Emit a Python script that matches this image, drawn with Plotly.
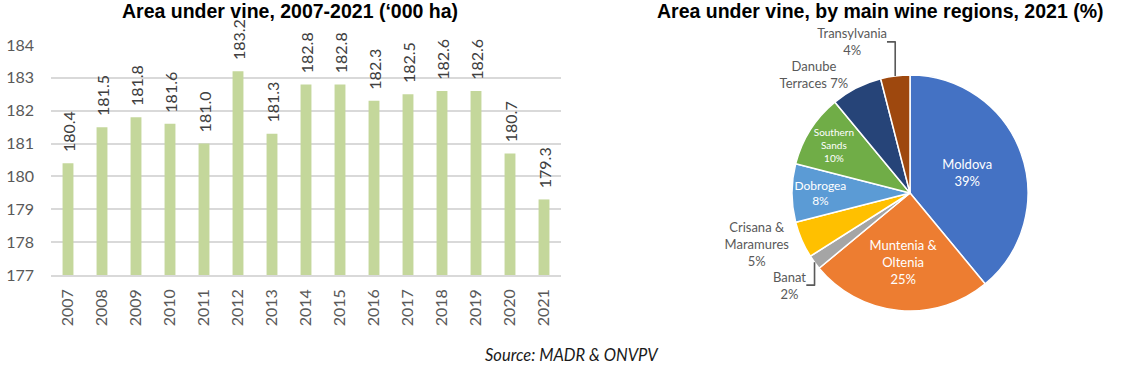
import plotly.graph_objects as go

# ---- data ----
years = ["2007", "2008", "2009", "2010", "2011", "2012", "2013", "2014",
         "2015", "2016", "2017", "2018", "2019", "2020", "2021"]
area = [180.4, 181.5, 181.8, 181.6, 181.0, 183.2, 181.3, 182.8,
        182.8, 182.3, 182.5, 182.6, 182.6, 180.7, 179.3]
y_ticks = [177, 178, 179, 180, 181, 182, 183, 184]

regions = ["Moldova", "Muntenia & Oltenia", "Banat", "Crisana & Maramures",
           "Dobrogea", "Southern Sands", "Danube Terraces", "Transylvania"]
region_label = ["Moldova", "Muntenia &<br>Oltenia", "Banat", "Crisana &<br>Maramures",
                "Dobrogea", "Southern<br>Sands", "Danube<br>Terraces", "Transylvania"]
label_sep = ["<br>", "<br>", "<br>", "<br>", "<br>", "<br>", " ", "<br>"]
shares = [39, 25, 2, 5, 8, 10, 7, 4]

# ---- styles ----
AX_MIN, AX_MAX = 177, 184
region_colors = ["#4472C4", "#ED7D31", "#A5A5A5", "#FFC000",
                 "#5B9BD5", "#70AD47", "#264478", "#9E480E"]
text_pos = ["inside", "inside", "outside", "outside", "inside", "inside", "outside", "outside"]
W, H = 1145, 370
BODY = "Lato, Carlito, Calibri, sans-serif"
TITLE = "Liberation Sans, Arial, sans-serif"
PAD = "\u00a0\u00a0"

fig = go.Figure()

fig.add_trace(go.Bar(
    x=years,
    y=[v - AX_MIN for v in area],
    base=AX_MIN,
    marker=dict(color="#C4D79B", line=dict(width=0)),
    width=0.32,
    text=[f"{PAD}{v:.1f}" for v in area],
    textposition="outside",
    textangle=-90,
    constraintext="none",
    cliponaxis=False,
    textfont=dict(family=BODY, size=16, color="#404040"),
    hovertemplate="%{x}: %{text}<extra></extra>",
    showlegend=False,
))

pie_text = [f"{lab}{sep}{v}%" for lab, sep, v in zip(region_label, label_sep, shares)]
fig.add_trace(go.Pie(
    labels=regions,
    values=shares,
    text=pie_text,
    textinfo="text",
    textposition=text_pos,
    insidetextorientation="horizontal",
    sort=False,
    direction="clockwise",
    rotation=0,
    marker=dict(colors=region_colors, line=dict(color="white", width=1.5)),
    insidetextfont=dict(family=BODY, size=13, color="white"),
    outsidetextfont=dict(family=BODY, size=13, color="#595959"),
    domain=dict(x=[792 / W, 1028 / W], y=[1 - 311 / H, 1 - 75 / H]),
    showlegend=False,
    hovertemplate="%{label}: %{value}%<extra></extra>",
))

fig.update_layout(
    width=W, height=H,
    margin=dict(l=0, r=0, t=0, b=0),
    paper_bgcolor="white", plot_bgcolor="white",
    xaxis=dict(
        domain=[51 / W, 561 / W],
        type="category",
        tickangle=-90,
        tickfont=dict(family=BODY, size=16, color="#595959"),
        showline=True, linecolor="#D9D9D9", linewidth=1.5,
        showgrid=False, ticks="", ticklabelstandoff=6,
        automargin=False,
    ),
    yaxis=dict(
        domain=[1 - 275 / H, 1 - 45 / H],
        range=[AX_MIN, AX_MAX],
        tickvals=y_ticks,
        tickfont=dict(family=BODY, size=16, color="#595959"),
        showgrid=True, gridcolor="#D9D9D9", gridwidth=1.5,
        zeroline=False, ticks="", ticklabelstandoff=16,
        automargin=False,
    ),
    annotations=[
        dict(text="<b>Area under vine, 2007-2021 (‘000 ha)</b>", x=290 / W, y=1 - 11 / H,
             xref="paper", yref="paper", showarrow=False, xanchor="center", yanchor="middle",
             font=dict(family=TITLE, size=19.5, color="black")),
        dict(text="<b>Area under vine, by main wine regions, 2021 (%)</b>", x=880 / W, y=1 - 11 / H,
             xref="paper", yref="paper", showarrow=False, xanchor="center", yanchor="middle",
             font=dict(family=TITLE, size=19.5, color="black")),
        dict(text="<i>Source: MADR &amp; ONVPV</i>", x=572 / W, y=1 - 355 / H,
             xref="paper", yref="paper", showarrow=False, xanchor="center", yanchor="middle",
             font=dict(family=BODY, size=16.5, color="#1a1a1a")),
    ],
)

fig.write_html("out.html", config={"displayModeBar": False},
               post_script="document.body.style.margin='0';")
